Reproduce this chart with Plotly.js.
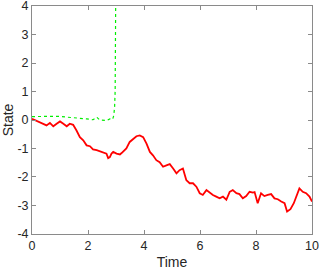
<!DOCTYPE html>
<html><head><meta charset="utf-8">
<script src="https://cdn.plot.ly/plotly-3.0.1.min.js"></script>
<style>html,body{margin:0;padding:0;background:#fff}</style>
</head><body><div id="chart" style="width:319px;height:270px"></div>
<script>
const redX = [0,0.14,0.35,0.52,0.64,0.76,0.88,1.00,1.12,1.24,1.35,1.47,1.59,1.71,1.83,1.95,2.07,2.18,2.31,2.42,2.54,2.66,2.72,2.78,2.84,2.90,3.02,3.14,3.20,3.25,3.37,3.49,3.61,3.73,3.85,3.97,4.09,4.21,4.32,4.44,4.56,4.68,4.80,4.92,5.04,5.16,5.27,5.39,5.51,5.63,5.75,5.87,5.99,6.10,6.23,6.34,6.46,6.58,6.70,6.82,6.94,7.06,7.17,7.30,7.41,7.53,7.65,7.77,7.89,7.95,8.06,8.18,8.30,8.42,8.54,8.66,8.78,8.90,9.02,9.11,9.23,9.35,9.47,9.55,9.67,9.79,9.91,10.0];
const redY = [0.04,-0.02,-0.12,-0.19,-0.10,-0.22,-0.13,-0.05,-0.13,-0.22,-0.13,-0.17,-0.37,-0.60,-0.71,-0.89,-0.92,-1.03,-1.06,-1.09,-1.12,-1.18,-1.34,-1.30,-1.18,-1.12,-1.18,-1.21,-1.16,-1.12,-1.00,-0.77,-0.66,-0.57,-0.54,-0.60,-0.83,-1.12,-1.24,-1.41,-1.48,-1.64,-1.59,-1.55,-1.70,-1.87,-1.76,-1.70,-2.11,-2.22,-2.22,-2.34,-2.57,-2.63,-2.46,-2.55,-2.63,-2.69,-2.75,-2.69,-2.80,-2.52,-2.46,-2.57,-2.60,-2.75,-2.67,-2.52,-2.55,-2.53,-2.92,-2.57,-2.67,-2.63,-2.60,-2.75,-2.78,-2.86,-2.92,-3.21,-3.13,-2.92,-2.63,-2.40,-2.52,-2.57,-2.69,-2.86];
const greenX = [0,0.29,0.64,1.00,1.24,1.59,1.95,2.18,2.31,2.42,2.66,2.78,2.88,2.92,2.95,2.97,2.98,2.99,3.0];
const greenY = [0.12,0.13,0.14,0.13,0.10,0.08,0.04,0.01,0.10,0.00,-0.02,0.04,0.02,0.16,0.45,1.03,2.07,4.02,6];
const xTicks = [0,2,4,6,8,10];
const yTicks = [-4,-3,-2,-1,0,1,2,3,4];

const axisCommon = {
  showgrid:false, zeroline:false, showline:true, linecolor:'#8a8a8a', linewidth:1,
  mirror:'ticks', ticks:'inside', ticklen:4, tickcolor:'#8a8a8a', tickwidth:1,
  ticklabeloverflow:'allow',
  tickfont:{family:'Liberation Sans, Arial, sans-serif', size:12.5, color:'#262626'}
};
const data = [
  {x:greenX, y:greenY, type:'scatter', mode:'lines', line:{color:'#00ee00', width:1.2, dash:'dot'}, hoverinfo:'skip'},
  {x:redX, y:redY, type:'scatter', mode:'lines', line:{color:'#ff0000', width:1.8}, hoverinfo:'skip'}
];
const layout = {
  width:319, height:270, showlegend:false,
  paper_bgcolor:'#fff', plot_bgcolor:'#fff',
  margin:{l:32, r:7, t:6, b:36},
  xaxis:Object.assign({}, axisCommon, {range:[0,10], tickvals:xTicks, ticktext:xTicks.map(String),
    title:{text:'Time', font:{family:'Liberation Sans, Arial, sans-serif', size:14, color:'#262626'}, standoff:5}}),
  yaxis:Object.assign({}, axisCommon, {range:[-4.001,4.001], tickvals:yTicks, ticktext:yTicks.map(String),
    title:{text:'State', font:{family:'Liberation Sans, Arial, sans-serif', size:14, color:'#262626'}, standoff:4}})
};
Plotly.newPlot('chart', data, layout, {displayModeBar:false, staticPlot:true});
</script>
</body></html>
